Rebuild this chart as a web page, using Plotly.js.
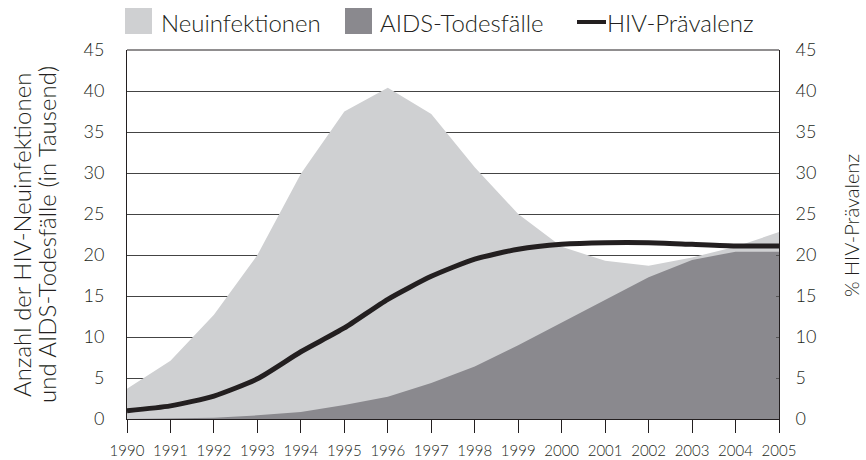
<!DOCTYPE html>
<html><head><meta charset="utf-8">
<script src="https://cdn.plot.ly/plotly-3.0.1.min.js"></script>
<style>html,body{margin:0;padding:0;background:#fff}#c{width:866px;height:460px}</style>
</head><body><div id="c"></div>
<script>
const years = [1990,1991,1992,1993,1994,1995,1996,1997,1998,1999,2000,2001,2002,2003,2004,2005];
const neuinfektionen = [3.7,7.1,12.7,20.0,29.9,37.5,40.4,37.2,30.7,25.0,21.0,19.3,18.7,19.7,21.0,22.8];
const aidsTodesfaelle = [0.0,0.05,0.15,0.45,0.85,1.7,2.7,4.4,6.4,9.0,11.8,14.5,17.3,19.4,20.4,20.4];
const hivPraevalenz = [1.0,1.6,2.8,4.9,8.2,11.1,14.6,17.4,19.5,20.7,21.3,21.5,21.5,21.3,21.1,21.1];
const tickVals = [0,5,10,15,20,25,30,35,40,45];
const legendLabels = ['Neuinfektionen','AIDS-Todesfälle','HIV-Prävalenz'];
const leftTitle = ['Anzahl der HIV-Neuinfektionen','und AIDS-Todesfälle (in Tausend)'];
const rightTitle = '% HIV-Prävalenz';

const txt = '#231f20';
const cLight = '#cfd0d2', cDark = '#8a898e', cLine = '#231f20';
const font = 'Lato, "Open Sans", sans-serif';
const W = 300;

const traces = [
  {x: years, y: neuinfektionen, type:'scatter', mode:'lines', fill:'tozeroy',
   fillcolor: cLight, line:{width:0, color:cLight}, name: legendLabels[0], showlegend:false, hoverinfo:'skip'},
  {x: years, y: aidsTodesfaelle, type:'scatter', mode:'lines', fill:'tozeroy',
   fillcolor: cDark, line:{width:0, color:cDark}, name: legendLabels[1], showlegend:false, hoverinfo:'skip'},
  {x: years, y: hivPraevalenz, type:'scatter', mode:'lines', yaxis:'y2',
   line:{width:5, color:cLine, shape:'spline', smoothing:0.6}, name: legendLabels[2], showlegend:false}
];

// paper-coordinate helpers for hand-placed legend and titles (plot: x 127..779, y 50..419 px)
const px = v => (v-127)/652, py = v => (419-v)/369;
const f = (s) => ({size:s, color:txt, family:font, weight:W});

const layout = {
  width:866, height:460,
  margin:{l:127, r:87, t:50, b:41},
  paper_bgcolor:'#fff', plot_bgcolor:'#fff',
  font:{family:font, color:txt},
  xaxis:{range:[1990,2005], tickvals:years, ticktext:years.map(String),
    ticks:'outside', ticklen:13, tickwidth:1, tickcolor:'#231f20',
    showline:true, linecolor:'#231f20', linewidth:1, showgrid:false, zeroline:false,
    tickfont:f(15), ticklabelstandoff:5, fixedrange:true},
  yaxis:{range:[0,45], tickvals:tickVals, showgrid:true, gridcolor:'#444', gridwidth:1,
    showline:true, linecolor:'#231f20', linewidth:1, zeroline:false, ticks:'',
    tickfont:f(18), ticklabelstandoff:18},
  yaxis2:{range:[0,45], tickvals:tickVals, overlaying:'y', side:'right', showgrid:false,
    showline:true, linecolor:'#231f20', linewidth:1, zeroline:false, ticks:'inside', ticklen:3, tickcolor:'#555',
    tickfont:f(18), ticklabelstandoff:12},
  shapes:[
    {type:'line', xref:'paper', yref:'paper', x0:0, x1:1, y0:1, y1:1, line:{color:'#231f20', width:1}},
    {type:'rect', xref:'paper', yref:'paper', x0:px(125), x1:px(152), y0:py(34), y1:py(8), fillcolor:cLight, line:{width:0}},
    {type:'rect', xref:'paper', yref:'paper', x0:px(345), x1:px(372), y0:py(34), y1:py(8), fillcolor:cDark, line:{width:0}},
    {type:'line', xref:'paper', yref:'paper', x0:px(577), x1:px(606), y0:py(22), y1:py(22), line:{color:cLine, width:4}}
  ],
  annotations:[
    {xref:'paper', yref:'paper', x:px(159), y:py(22), xanchor:'left', yanchor:'middle', text:legendLabels[0], showarrow:false, font:f(24)},
    {xref:'paper', yref:'paper', x:px(378), y:py(22), xanchor:'left', yanchor:'middle', text:legendLabels[1], showarrow:false, font:f(24)},
    {xref:'paper', yref:'paper', x:px(605), y:py(22), xanchor:'left', yanchor:'middle', text:legendLabels[2], showarrow:false, font:f(24)},
    {xref:'paper', yref:'paper', x:px(22), y:py(235), xanchor:'center', yanchor:'middle', textangle:-90, text:leftTitle[0], showarrow:false, font:f(24)},
    {xref:'paper', yref:'paper', x:px(47), y:py(235), xanchor:'center', yanchor:'middle', textangle:-90, text:leftTitle[1], showarrow:false, font:f(24)},
    {xref:'paper', yref:'paper', x:px(851), y:py(226), xanchor:'center', yanchor:'middle', textangle:-90, text:rightTitle, showarrow:false, font:f(20)}
  ],
  showlegend:false
};
Plotly.newPlot('c', traces, layout, {staticPlot:true, displayModeBar:false});
</script></body></html>
